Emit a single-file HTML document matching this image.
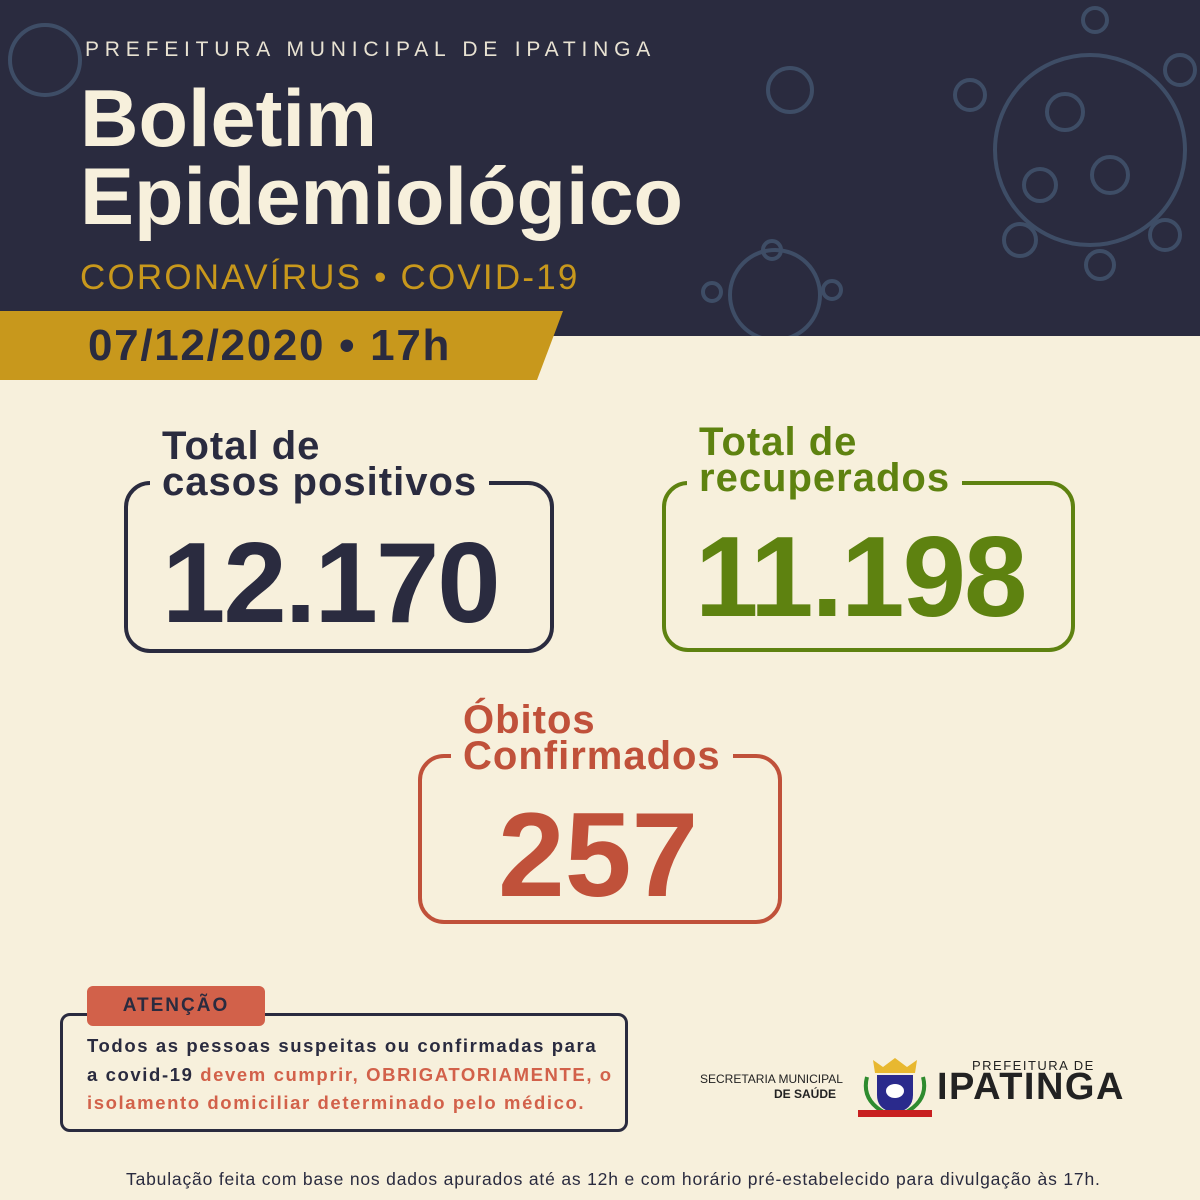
<!DOCTYPE html>
<html><head><meta charset="utf-8"><style>
*{margin:0;padding:0;box-sizing:border-box}
body{width:1200px;height:1200px;background:#f7f0dc;position:relative;overflow:hidden;font-family:"Liberation Sans",sans-serif}
.a{position:absolute;white-space:nowrap}
.box{position:absolute;border:4px solid;border-radius:26px}
.lbl{position:absolute;font-weight:bold;font-size:40px;line-height:36px;padding:0 12px;background:#f7f0dc;letter-spacing:1px}
.num{position:absolute;font-weight:bold;letter-spacing:-2px}
</style></head><body>
<div class="a" style="left:0;top:0;width:1200px;height:336px;background:#2a2b3f"></div>
<svg class="a" style="left:0;top:0" width="1200" height="336">
<g fill="none" stroke="#3e4d66" stroke-width="4">
<circle cx="1090" cy="150" r="95"/><circle cx="1065" cy="112" r="18"/><circle cx="1110" cy="175" r="18"/><circle cx="1040" cy="185" r="16"/>
<circle cx="970" cy="95" r="15"/><circle cx="1180" cy="70" r="15"/><circle cx="1020" cy="240" r="16"/><circle cx="1165" cy="235" r="15"/><circle cx="1100" cy="265" r="14"/><circle cx="1095" cy="20" r="12"/>
<circle cx="775" cy="295" r="45"/><circle cx="772" cy="250" r="9"/><circle cx="712" cy="292" r="9"/><circle cx="832" cy="290" r="9"/>
<circle cx="790" cy="90" r="22"/><circle cx="45" cy="60" r="35"/>
</g></svg>
<div class="a" style="left:85px;top:38px;font-size:21px;letter-spacing:5.8px;color:#e8e2d2">PREFEITURA MUNICIPAL DE IPATINGA</div>
<div class="a" style="left:80px;top:80px;font-size:81px;line-height:78px;font-weight:bold;color:#f7f0dc;letter-spacing:0px">Boletim<br>Epidemiológico</div>
<div class="a" style="left:80px;top:258px;font-size:35px;letter-spacing:2.2px;color:#c8981c">CORONAVÍRUS • COVID-19</div>
<svg class="a" style="left:0;top:311px" width="570" height="70"><polygon points="0,0 563,0 537,69 0,69" fill="#c8981c"/></svg>
<div class="a" style="left:88px;top:321px;font-size:44px;font-weight:bold;color:#2a2b3f;letter-spacing:1.7px">07/12/2020 • 17h</div>

<div class="box" style="left:124px;top:481px;width:430px;height:172px;border-color:#2a2b3f"></div>
<div class="lbl" style="left:150px;top:428px;color:#2a2b3f">Total de<br>casos positivos</div>
<div class="num" style="left:162px;top:518px;font-size:114px;color:#2a2b3f">12.170</div>

<div class="box" style="left:662px;top:481px;width:413px;height:171px;border-color:#5e8210"></div>
<div class="lbl" style="left:687px;top:424px;color:#5e8210">Total de<br>recuperados</div>
<div class="num" style="left:695px;top:512px;font-size:114px;color:#5e8210">11.198</div>

<div class="box" style="left:418px;top:754px;width:364px;height:170px;border-color:#c0513a"></div>
<div class="lbl" style="left:451px;top:702px;color:#c0513a">Óbitos<br>Confirmados</div>
<div class="num" style="left:498px;top:786px;font-size:120px;letter-spacing:0;color:#c0513a">257</div>

<div class="a" style="left:60px;top:1013px;width:568px;height:119px;border:3px solid #2a2b3f;border-radius:10px"></div>
<div class="a" style="left:87px;top:986px;width:178px;height:40px;background:#d2614a;border-radius:6px;color:#2a2b3f;font-size:19px;font-weight:bold;letter-spacing:2px;text-align:center;line-height:40px">ATENÇÃO</div>
<div class="a" style="left:87px;top:1032px;font-size:18.5px;line-height:28.5px;font-weight:bold;color:#2a2b3f;letter-spacing:1.6px">Todos as pessoas suspeitas ou confirmadas para<br>a covid-19 <span style="color:#d2614a">devem cumprir, OBRIGATORIAMENTE, o</span><br><span style="color:#d2614a">isolamento domiciliar determinado pelo médico.</span></div>

<div class="a" style="left:700px;top:1072px;font-size:12px;line-height:15px;color:#222;text-align:right;width:136px">SECRETARIA MUNICIPAL<br><b>DE SAÚDE</b></div>
<svg class="a" style="left:855px;top:1055px" width="80" height="65">
<path d="M18 5 L28 12 L40 3 L52 12 L62 5 L60 18 L20 18Z" fill="#e8b830"/>
<path d="M22 20 H58 V40 Q58 55 40 58 Q22 55 22 40Z" fill="#2a2a8c"/>
<ellipse cx="40" cy="36" rx="9" ry="7" fill="#fff"/>
<path d="M12 22 Q6 45 30 58 M68 22 Q74 45 50 58" stroke="#2e8b2e" stroke-width="4" fill="none"/>
<rect x="3" y="55" width="74" height="7" fill="#c82020"/></svg>
<div class="a" style="left:972px;top:1058px;font-size:13px;letter-spacing:1.5px;color:#222">PREFEITURA DE</div>
<div class="a" style="left:937px;top:1066px;font-size:38px;font-weight:900;color:#222;letter-spacing:1.5px">IPATINGA</div>

<div class="a" style="left:126px;top:1169px;font-size:17.5px;color:#2a2b3f;letter-spacing:0.82px">Tabulação feita com base nos dados apurados até as 12h e com horário pré-estabelecido para divulgação às 17h.</div>
</body></html>
